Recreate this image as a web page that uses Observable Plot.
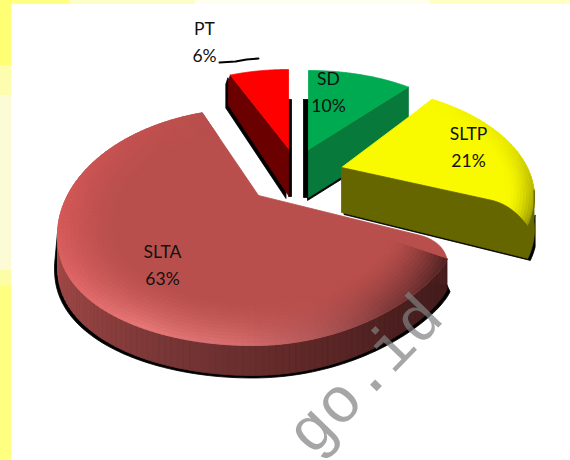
<!DOCTYPE html>
<html>
<head>
<meta charset="utf-8">
<script src="https://cdn.jsdelivr.net/npm/d3@7"></script>
<script src="https://cdn.jsdelivr.net/npm/@observablehq/plot@0.6"></script>
<style>html,body{margin:0;padding:0;background:#fff}svg{display:block}</style>
</head>
<body>
<div id="chart"></div>
<script>
const categories = ["SD", "SLTP", "SLTA", "PT"];
const percents = [10, 21, 63, 6];

const rad = d => d * Math.PI / 180;
const mix = (a, b, t) => d3.interpolateRgb(a, b)(Math.max(0, Math.min(1, t)));
const range = (a, b, n) => d3.range(n + 1).map(i => a + (b - a) * i / n);

// pie angles come from the values; each exploded wedge has its own perspective frame
let cum = 0;
const angles = {};
categories.forEach((c, i) => { angles[c] = [cum * 3.6, (cum + percents[i]) * 3.6]; cum += percents[i]; });

const ellipse = (cx, cy, rx, ry) => t => [cx + rx * Math.sin(rad(t)), cy - ry * Math.cos(rad(t))];
const rimSLTA = t => {
  const s = Math.sin(rad(t)), c = Math.cos(rad(t));
  const x = 252 + 195 * s;
  if (c >= 0) return [x, 235 - 127 * c];
  return s < 0 ? [x, 235 + 110 * Math.pow(-c, 0.9)] : [x, 257 + 88 * Math.pow(-c, 1.5)];
};
const frames = {
  PT:   {apex: [288, 148], rim: ellipse(288, 148, 158, 79), shift: 0, stretch: 1},
  SD:   {apex: [308, 149], rim: ellipse(308, 149, 163, 79), shift: 0, stretch: 1.05},
  SLTP: {apex: [341, 167], rim: ellipse(341, 197, 193, 111), shift: -8, stretch: 1.02, knee: [492, 200], bend: [512, 205], at: "end"},
  SLTA: {apex: [258, 195], rim: rimSLTA, shift: -17.6, stretch: 1.107, knee: [420, 235], bend: [442, 241], at: "start"}
};
const sweep = c => {
  const f = frames[c], [a, b] = angles[c];
  const s = a + f.shift;
  return [s, s + (b - a) * f.stretch];
};
// rounded corner between a straight wedge side and the rim, from the knee out to the rim
const corner = c => {
  const f = frames[c], [s, e] = sweep(c), E = f.rim(f.at === "start" ? s : e);
  return range(0, 1, 10).map(u => [
    (1 - u) * (1 - u) * f.knee[0] + 2 * u * (1 - u) * f.bend[0] + u * u * E[0],
    (1 - u) * (1 - u) * f.knee[1] + 2 * u * (1 - u) * f.bend[1] + u * u * E[1]
  ]);
};
const topPoly = c => {
  const f = frames[c], [s, e] = sweep(c), arc = range(s, e, 80).map(f.rim);
  if (f.at === "start") return [f.apex, ...corner(c), ...arc];
  if (f.at === "end") return [f.apex, ...arc, ...corner(c).reverse()];
  return [f.apex, ...arc];
};

const shapes = [];
let nid = 0;
const add = (pts, color) => { const id = nid++; [...pts, pts[0]].forEach(p => shapes.push({id, x: p[0], y: p[1], color})); };
const shifted = (pts, dx, dy) => pts.map(p => [p[0] + dx, p[1] + dy]);
const bevel = (c, depth, rings, rimColor, base, power) => {
  const f = frames[c], [s, e] = sweep(c);
  const ts = range(s, e, Math.ceil((e - s) / 2));
  for (let r = 0; r < rings; r++) {
    const t0 = depth * r / rings, t1 = depth * (r + 1) / rings;
    const w = Math.pow(1 - (r + 0.5) / rings, power);
    for (let i = 0; i < ts.length - 1; i++) {
      const A = f.rim(ts[i]), B = f.rim(ts[i + 1]);
      const lerp = (P, t) => [P[0] + (f.apex[0] - P[0]) * t, P[1] + (f.apex[1] - P[1]) * t];
      add([lerp(A, t0), lerp(B, t0), lerp(B, t1), lerp(A, t1)], mix(base, rimColor((ts[i] + ts[i + 1]) / 2), w));
    }
  }
};

// PT
{
  const f = frames.PT, [s] = sweep("PT");
  const L = f.rim(s), A = f.apex;
  const wall = [L, A, [A[0], A[1] + 47], [L[0] - 2, L[1] + 30], [L[0] - 2, L[1] + 6]];
  add([[A[0], A[1] - 49], [A[0] + 3, A[1] - 49], [A[0] + 3, A[1] + 48], [A[0], A[1] + 48]], "#000000");
  add(shifted(wall, -2.5, 3), "#000000");
  add(wall, "#6a0000");
  add(topPoly("PT"), "#ff0000");
}
// SD
{
  const f = frames.SD, [, e] = sweep("SD");
  const E = f.rim(e), A = f.apex;
  add([[A[0] - 5, A[1] - 50], [A[0], A[1] - 50], [A[0], A[1] + 48], [A[0] - 5, A[1] + 48]], "#000000");
  add(shifted([A, E, [E[0], E[1] + 48], [A[0], A[1] + 48]], -1, 3), "#000000");
  add([A, E, [E[0], E[1] + 48], [A[0], A[1] + 48]], "#06793b");
  add(topPoly("SD"), "#00aa50");
}
// SLTP
{
  const f = frames.SLTP, [, e] = sweep("SLTP");
  const A = f.apex, h0 = 45, h1 = 32;
  const arc = range(86, e, 10).map(f.rim);
  const wall = [A, ...corner("SLTP"), ...arc.slice().reverse(),
    ...arc.map(p => [p[0], p[1] + h1]), [A[0], A[1] + h0]];
  const shadowArc = range(98, e, 6).map(f.rim);
  add(shifted([A, f.rim(e), ...shadowArc.slice().reverse(),
    ...shadowArc.map(p => [p[0], p[1] + h1]), [A[0], A[1] + h0]], 2.5, 2), "#000000");
  add(topPoly("SLTP"), "#f9f900");
  const rimC = d3.scaleLinear().domain([28, 60, 85, 105]).range(["#f9f900", "#e6e600", "#b4b400", "#8c8c00"]);
  bevel("SLTP", 0.14, 9, rimC, "#f9f900", 1.6);
  add(wall, "#666600");
}
// SLTA
{
  const f = frames.SLTA, [s] = sweep("SLTA");
  const h = 30;
  const arc = range(s, 272, 90);
  const outer = arc.map(t => { const p = f.rim(t); return [p[0] + 3 * Math.sin(rad(t)), p[1] + h + 2.5]; });
  const start = f.rim(s);
  add([[start[0], start[1] + h - 4], ...outer, f.rim(272)], "#000000");
  const wallC = d3.scaleLinear().domain([94, 130, 165, 200, 235, 272])
    .range(["#441c1c", "#4a1f1f", "#5f2828", "#743434", "#8f4140", "#a84c4b"]);
  for (let i = 0; i < arc.length - 1; i++) {
    const A = f.rim(arc[i]), B = f.rim(arc[i + 1]);
    add([A, B, [B[0], B[1] + h], [A[0], A[1] + h]], wallC((arc[i] + arc[i + 1]) / 2));
  }
  add(topPoly("SLTA"), "#b94f4c");
  const rimC = d3.scaleLinear().domain([94, 112, 135, 160, 185, 215, 250, 275, 310, 345])
    .range(["#4a2020", "#5a2828", "#7a3838", "#b05858", "#d86f6f", "#e87a7a", "#e06666", "#d85a5a", "#c95353", "#b94f4c"]);
  bevel("SLTA", 0.3, 14, rimC, "#b94f4c", 1.5);
}

const bands = [
  {x1: 0, x2: 11, y1: 0, y2: 65, c: "#ffff74"},
  {x1: 0, x2: 11, y1: 65, y2: 95, c: "#fdfdb0"},
  {x1: 0, x2: 11, y1: 95, y2: 270, c: "#fbfbd6"},
  {x1: 0, x2: 11, y1: 270, y2: 285, c: "#fdfda8"},
  {x1: 0, x2: 11, y1: 285, y2: 460, c: "#ffff80"},
  {x1: 11, x2: 70, y1: 0, y2: 4, c: "#ffff80"},
  {x1: 70, x2: 195, y1: 0, y2: 4, c: "#fdfdc8"},
  {x1: 195, x2: 430, y1: 0, y2: 4, c: "#fffff0"},
  {x1: 430, x2: 570, y1: 0, y2: 4, c: "#ffffc4"}
];
const labelSpots = {PT: [204, 39], SD: [328, 89], SLTP: [468, 144], SLTA: [162, 262]};
const labelRows = categories.map((c, i) => ({x: labelSpots[c][0], y: labelSpots[c][1], text: `${c}\n${percents[i]}%`}));
const leaderX = [219, 235, 246, 258];
const leaderY = [62, 61, 59, 58];

const chart = Plot.plot({
  width: 570,
  height: 460,
  margin: 0,
  x: {domain: [0, 570], range: [0, 570], axis: null},
  y: {domain: [0, 460], range: [0, 460], axis: null},
  color: {type: "identity"},
  style: {background: "transparent"},
  marks: [
    Plot.rect(bands, {x1: "x1", x2: "x2", y1: "y1", y2: "y2", fill: "c"}),
    Plot.line(shapes, {x: "x", y: "y", z: "id", fill: "color", stroke: "color", strokeWidth: 0.8}),
    Plot.line(leaderX.map((x, i) => ({x, y: leaderY[i]})), {x: "x", y: "y", stroke: "#000", strokeWidth: 2}),
    Plot.text(["go.id"], {x: () => 364, y: () => 374, text: d => d, rotate: -46, fontFamily: "Liberation Mono", fontSize: 64, fill: "#808080", fillOpacity: 0.7}),
    Plot.text(labelRows, {x: "x", y: "y", text: "text", fontFamily: "Lato", fontSize: 17.5, lineHeight: 1.55, fill: "#111"})
  ]
});
document.getElementById("chart").appendChild(chart);
</script>
</body>
</html>
